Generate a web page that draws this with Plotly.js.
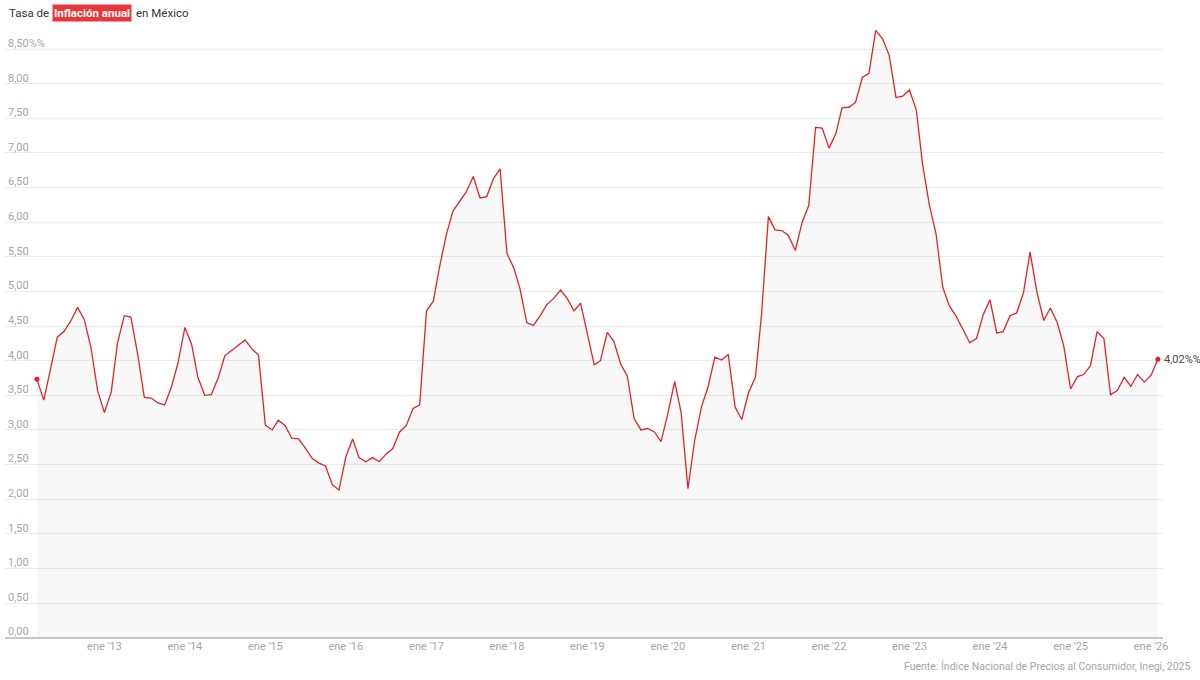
<!DOCTYPE html>
<html>
<head>
<meta charset="utf-8">
<script src="https://cdn.plot.ly/plotly-3.0.1.min.js"></script>
<style>
  html, body { margin: 0; padding: 0; background: #fff; }
  #chart { width: 1200px; height: 680px; }
</style>
</head>
<body>
<div id="chart"></div>
<script>
// Annual inflation rate in Mexico (%), monthly, by year
const v2012 = [3.73, 3.43, 3.87, 4.34, 4.42, 4.57, 4.77, 4.60, 4.19, 3.57]; // Mar–Dec
const v2013 = [3.25, 3.55, 4.25, 4.65, 4.63, 4.09, 3.47, 3.46, 3.39, 3.36, 3.62, 3.97];
const v2014 = [4.48, 4.23, 3.76, 3.50, 3.51, 3.75, 4.07, 4.15, 4.22, 4.30, 4.17, 4.08];
const v2015 = [3.07, 3.00, 3.14, 3.06, 2.88, 2.87, 2.74, 2.59, 2.52, 2.48, 2.21, 2.13];
const v2016 = [2.61, 2.87, 2.60, 2.54, 2.60, 2.54, 2.65, 2.73, 2.97, 3.06, 3.31, 3.36];
const v2017 = [4.72, 4.86, 5.35, 5.82, 6.16, 6.31, 6.44, 6.66, 6.35, 6.37, 6.63, 6.77];
const v2018 = [5.55, 5.34, 5.04, 4.55, 4.51, 4.65, 4.81, 4.90, 5.02, 4.90, 4.72, 4.83];
const v2019 = [4.37, 3.94, 4.00, 4.41, 4.28, 3.95, 3.78, 3.16, 3.00, 3.02, 2.97, 2.83];
const v2020 = [3.24, 3.70, 3.25, 2.15, 2.84, 3.33, 3.62, 4.05, 4.01, 4.09, 3.33, 3.15];
const v2021 = [3.54, 3.76, 4.67, 6.08, 5.89, 5.88, 5.81, 5.59, 6.00, 6.24, 7.37, 7.36];
const v2022 = [7.07, 7.28, 7.65, 7.66, 7.73, 8.09, 8.15, 8.77, 8.65, 8.41, 7.80, 7.82];
const v2023 = [7.91, 7.62, 6.85, 6.25, 5.84, 5.06, 4.79, 4.64, 4.45, 4.26, 4.32, 4.66];
const v2024 = [4.88, 4.40, 4.42, 4.65, 4.69, 4.98, 5.57, 4.99, 4.58, 4.76, 4.55, 4.21];
const v2025 = [3.59, 3.77, 3.80, 3.93, 4.42, 4.32, 3.51, 3.57, 3.76, 3.63, 3.80, 3.69];
const v2026 = [3.79, 4.02]; // Jan–Feb

const years = [2012, 2013, 2014, 2015, 2016, 2017, 2018, 2019, 2020, 2021, 2022, 2023, 2024, 2025, 2026];
const yearValues = [v2012, v2013, v2014, v2015, v2016, v2017, v2018, v2019, v2020, v2021, v2022, v2023, v2024, v2025, v2026];
const firstMonth = [3, 1, 1, 1, 1, 1, 1, 1, 1, 1, 1, 1, 1, 1, 1];

const yTickVals = [0, 0.5, 1, 1.5, 2, 2.5, 3, 3.5, 4, 4.5, 5, 5.5, 6, 6.5, 7, 7.5, 8, 8.5];
const yTickText = ["0,00", "0,50", "1,00", "1,50", "2,00", "2,50", "3,00", "3,50", "4,00", "4,50",
                   "5,00", "5,50", "6,00", "6,50", "7,00", "7,50", "8,00", "8,50%%"];
const xTickVals = ["2013-01-01", "2014-01-01", "2015-01-01", "2016-01-01", "2017-01-01", "2018-01-01", "2019-01-01",
                   "2020-01-01", "2021-01-01", "2022-01-01", "2023-01-01", "2024-01-01", "2025-01-01", "2026-01-01"];
const xTickText = ["ene '13", "ene '14", "ene '15", "ene '16", "ene '17", "ene '18", "ene '19",
                   "ene '20", "ene '21", "ene '22", "ene '23", "ene '24", "ene '25", "ene '26"];
const lastLabel = "4,02%%";
const titleParts = ["Tasa de", "Inflación anual", "en México"];
const sourceText = "Fuente: Índice Nacional de Precios al Consumidor, Inegi, 2025";

// Build x (month dates) and y from the per-year arrays
const x = [], y = [];
years.forEach((yr, i) => {
  yearValues[i].forEach((val, j) => {
    const m = firstMonth[i] + j;
    x.push(yr + "-" + String(m).padStart(2, "0") + "-01");
    y.push(val);
  });
});

const RED = "#e3232b";
const FONT = "Roboto, 'Liberation Sans', sans-serif";
const TITLE_SIZE = 11.5;

// geometry
const W = 1200, H = 680;
const pxPerUnit = 69.2;
const zeroPx = 637.3;           // pixel row of the 0 line
const yMin = -0.15;             // a little room under 0
const L = 5, R = 37, T = 20;
const bottomPx = zeroPx - yMin * pxPerUnit;
const B = H - bottomPx;
const pw = W - L - R, ph = H - T - B;
const yMax = yMin + ph / pxPerUnit;
const px = v => (v - L) / pw;
const py = v => (H - B - v) / ph;

// measure title pieces so they sit side by side without overlapping
const ctx = document.createElement("canvas").getContext("2d");
ctx.font = TITLE_SIZE + "px Roboto";
const w1 = ctx.measureText(titleParts[0]).width;
ctx.font = "bold " + TITLE_SIZE + "px Roboto";
const w2 = ctx.measureText(titleParts[1]).width;
const x1 = 7;
const x2 = x1 + w1 + 5;
const x3 = x2 + w2 + 6;

const traces = [
  {
    x: x, y: y, type: "scatter", mode: "lines",
    line: { color: RED, width: 1.3 },
    fill: "tozeroy", fillcolor: "rgba(0,0,0,0.028)",
    hoverinfo: "skip"
  },
  {
    x: [x[0], x[x.length - 1]], y: [y[0], y[y.length - 1]],
    type: "scatter", mode: "markers",
    marker: { color: RED, size: 5 },
    hoverinfo: "skip", cliponaxis: false
  }
];

const layout = {
  width: W, height: H,
  margin: { l: L, r: R, t: T, b: B, pad: 0 },
  paper_bgcolor: "#fff", plot_bgcolor: "#fff",
  showlegend: false,
  font: { family: FONT, color: "#333" },
  xaxis: {
    type: "date",
    range: ["2011-10-08", "2026-02-24"],
    tickvals: xTickVals, ticktext: xTickText,
    tickfont: { size: 11, color: "#a6a6a6", family: FONT },
    ticklabelstandoff: Math.round(yMin * pxPerUnit),
    ticks: "", showgrid: false, zeroline: false,
    showline: false,
    fixedrange: true
  },
  yaxis: {
    range: [yMin, yMax],
    tickvals: yTickVals, ticktext: yTickText,
    ticklabelposition: "inside",
    ticklabelshift: -6,
    tickfont: { size: 11, color: "#a6a6a6", family: FONT },
    ticks: "", showgrid: true, gridcolor: "#ececec", gridwidth: 1,
    zeroline: true, zerolinecolor: "#c8c8c8", zerolinewidth: 2,
    showline: false,
    fixedrange: true
  },
  annotations: [
    { xref: "paper", yref: "paper", x: px(x1), y: py(13), xanchor: "left", yanchor: "middle",
      text: titleParts[0], showarrow: false, font: { size: TITLE_SIZE, color: "#333", family: FONT } },
    { xref: "paper", yref: "paper", x: px(x2), y: py(13), xanchor: "left", yanchor: "middle",
      text: "<b>" + titleParts[1] + "</b>", showarrow: false, bgcolor: "#e8363a", borderpad: 1,
      font: { size: TITLE_SIZE, color: "#fff", family: FONT } },
    { xref: "paper", yref: "paper", x: px(x3), y: py(13), xanchor: "left", yanchor: "middle",
      text: titleParts[2], showarrow: false, font: { size: TITLE_SIZE, color: "#333", family: FONT } },
    { xref: "x", yref: "y", x: x[x.length - 1], y: y[y.length - 1], xanchor: "left", yanchor: "middle",
      xshift: 4, text: lastLabel, showarrow: false, font: { size: 11, color: "#444", family: FONT } },
    { xref: "paper", yref: "paper", x: px(1193), y: py(666), xanchor: "right", yanchor: "middle",
      text: sourceText, showarrow: false,
      font: { size: 10.5, color: "#a6a6a6", family: FONT } }
  ]
};

Plotly.newPlot("chart", traces, layout, { displayModeBar: false, staticPlot: true });
</script>
</body>
</html>
